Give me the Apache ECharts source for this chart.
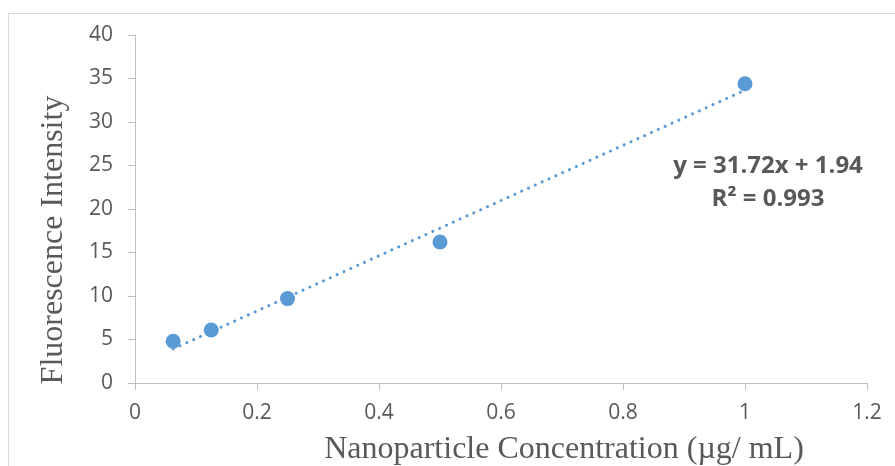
<!DOCTYPE html>
<html><head><meta charset="utf-8">
<script src="https://cdn.jsdelivr.net/npm/echarts@6/dist/echarts.min.js"></script>
<style>html,body{margin:0;padding:0;background:#fff}#c{width:895px;height:466px}</style>
</head><body><div id="c"></div>
<script>
const concentration = [0.0625, 0.125, 0.25, 0.5, 1];
const intensity = [4.8, 6.1, 9.7, 16.2, 34.4];
const trendX = [0.0625, 1];
const trendY = [3.92, 33.66];
const xTitle = 'Nanoparticle Concentration (µg/ mL)';
const yTitle = 'Fluorescence Intensity';
const eqText = 'y = 31.72x + 1.94';
const r2Text = 'R² = 0.993';

const chart = echarts.init(document.getElementById('c'));
const axisCol = '#bfbfbf', txt = '#595959', blue = '#5b9bd5';
chart.setOption({
  animation: false,
  grid: {left: 135, right: 28, top: 35, bottom: 83, outerBoundsMode: 'none', containLabel: false},
  xAxis: {
    type: 'value', min: 0, max: 1.2, interval: 0.2,
    axisLine: {show: true, lineStyle: {color: axisCol, width: 1}},
    axisTick: {show: true, length: 7, lineStyle: {color: axisCol}},
    splitLine: {show: false},
    axisLabel: {fontFamily: 'Open Sans', fontSize: 21, color: txt, margin: 20}
  },
  yAxis: {
    type: 'value', min: 0, max: 40, interval: 5,
    axisLine: {show: true, lineStyle: {color: axisCol, width: 1}},
    axisTick: {show: true, length: 7, lineStyle: {color: axisCol}},
    splitLine: {show: false},
    axisLabel: {fontFamily: 'Open Sans', fontSize: 21, color: txt, margin: 22}
  },
  series: [
    {
      type: 'line', data: trendX.map((x, i) => [x, trendY[i]]),
      showSymbol: false, symbol: 'none',
      lineStyle: {color: blue, width: 3, type: [0.1, 7.4], cap: 'round'}
    },
    {
      type: 'scatter', data: concentration.map((x, i) => [x, intensity[i]]),
      symbol: 'circle', symbolSize: 15, itemStyle: {color: blue, opacity: 1}
    }
  ],
  graphic: [
    {type: 'rect', shape: {x: 8.5, y: 13.5, width: 900, height: 470}, style: {fill: 'none', stroke: '#d9d9d9', lineWidth: 1}, silent: true},
    {type: 'text', x: 54, y: 240, rotation: Math.PI / 2,
     style: {text: yTitle, font: '32px "Liberation Serif"', fill: txt, align: 'center', verticalAlign: 'middle'}},
    {type: 'text', x: 564, y: 450,
     style: {text: xTitle, font: '32px "Liberation Serif"', fill: txt, align: 'center', verticalAlign: 'middle'}},
    {type: 'text', x: 768, y: 166, style: {text: eqText, font: 'bold 24px "Open Sans"', fill: txt, align: 'center', verticalAlign: 'middle'}},
    {type: 'text', x: 768, y: 199, style: {text: r2Text, font: 'bold 24px "Open Sans"', fill: txt, align: 'center', verticalAlign: 'middle'}}
  ]
});
</script></body></html>
